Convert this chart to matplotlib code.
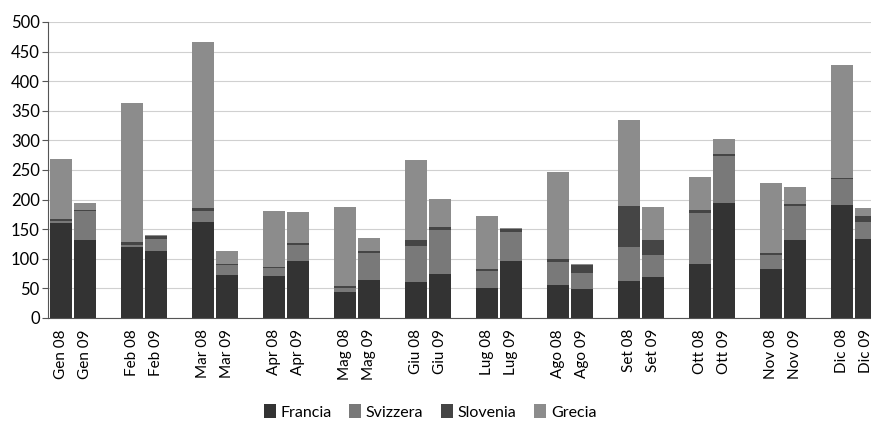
import matplotlib
matplotlib.use("Agg")
import matplotlib.pyplot as plt
import numpy as np

months = ["Gen", "Feb", "Mar", "Apr", "Mag", "Giu", "Lug", "Ago", "Set", "Ott", "Nov", "Dic"]

# values per month, year 2008 and 2009
francia_08 = [160, 120, 162, 71, 44, 61, 51, 56, 62, 91, 83, 191]
svizzera_08 = [4, 4, 19, 13, 6, 61, 28, 38, 58, 86, 24, 43]
slovenia_08 = [4, 4, 4, 2, 4, 10, 4, 6, 70, 5, 3, 3]
grecia_08 = [100, 235, 282, 95, 133, 135, 89, 147, 144, 57, 118, 191]

francia_09 = [131, 113, 72, 96, 65, 74, 97, 49, 70, 194, 131, 134]
svizzera_09 = [49, 20, 18, 28, 44, 75, 48, 27, 36, 79, 58, 29]
slovenia_09 = [3, 5, 2, 3, 5, 5, 6, 13, 25, 4, 4, 9]
grecia_09 = [11, 2, 22, 52, 21, 47, 1, 2, 57, 25, 28, 13]

series = ["Francia", "Svizzera", "Slovenia", "Grecia"]
COLORS = ["#333333", "#797979", "#454545", "#8c8c8c"]


def main():
    plt.rcParams["font.family"] = ["Lato", "DejaVu Sans"]
    fig = plt.figure(figsize=(8.71, 4.24), dpi=100)
    ax = fig.add_axes([48 / 871, 106 / 424, 852 / 871, 296 / 424])

    x = np.arange(len(months))
    off = 0.169
    width = 0.3
    data_08 = [francia_08, svizzera_08, slovenia_08, grecia_08]
    data_09 = [francia_09, svizzera_09, slovenia_09, grecia_09]

    for pos, data in [(x - off, data_08), (x + off, data_09)]:
        bottom = np.zeros(len(months))
        for vals, name, col in zip(data, series, COLORS):
            ax.bar(pos, vals, width, bottom=bottom, color=col, edgecolor="none",
                   label=name if pos[0] < 0 else None, zorder=2)
            bottom += np.array(vals)

    ax.set_xlim(-0.352, -0.352 + 852 / 71)
    ax.set_ylim(0, 500)
    ax.set_yticks(range(0, 501, 50))
    ticks = list(x - off) + list(x + off)
    labels = [m + " 08" for m in months] + [m + " 09" for m in months]
    ax.set_xticks(ticks)
    ax.set_xticklabels(labels, rotation=90, fontsize=11)
    ax.tick_params(axis="x", length=0, pad=8)
    ax.tick_params(axis="y", length=4, width=0.8, color="#555555", labelsize=12, pad=2)
    ax.grid(axis="y", color="#d0d0d0", linewidth=0.8, zorder=0)
    for s in ["top", "right"]:
        ax.spines[s].set_visible(False)
    ax.spines["left"].set_color("#555555")
    ax.spines["bottom"].set_color("#555555")

    handles, labs = ax.get_legend_handles_labels()
    fig.legend(handles, labs, loc="center", bbox_to_anchor=(430 / 871, 1 - 412 / 424),
               ncol=4, frameon=False, fontsize=11.5, handlelength=0.75, handleheight=1.0,
               handletextpad=0.3, columnspacing=1.1)

    fig.savefig("out.png", dpi=100)
    plt.close(fig)


if __name__ == "__main__":
    main()
